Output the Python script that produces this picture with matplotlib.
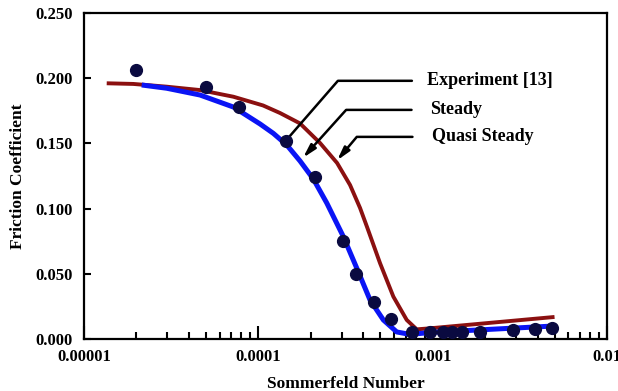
import matplotlib
matplotlib.use("Agg")
import matplotlib.pyplot as plt
from matplotlib.ticker import FixedLocator, NullFormatter

plt.rcParams['font.family'] = ['Liberation Serif', 'DejaVu Serif']
plt.rcParams['font.weight'] = 'bold'

# Experiment [13] points
exp_s = [2.0e-5, 5.0e-5, 7.7e-5, 1.45e-4, 2.1e-4, 3.05e-4, 3.65e-4, 4.6e-4, 5.8e-4,
         7.6e-4, 9.7e-4, 1.15e-3, 1.29e-3, 1.47e-3, 1.87e-3, 2.89e-3, 3.87e-3, 4.85e-3]
exp_f = [0.206, 0.193, 0.178, 0.152, 0.124, 0.075, 0.050, 0.028, 0.015,
         0.005, 0.005, 0.005, 0.005, 0.005, 0.005, 0.007, 0.0075, 0.0085]

# Steady (blue)
steady_s = [2.143e-5, 2.98e-5, 4.63e-5, 7.19e-5, 1.023e-4, 1.219e-4, 1.455e-4, 1.735e-4,
            2.068e-4, 2.469e-4, 3.074e-4, 3.668e-4, 4.373e-4, 5.215e-4, 6.223e-4,
            7.42e-4, 9.66e-4, 5.0e-3]
steady_f = [0.1948, 0.1923, 0.1871, 0.1779, 0.1649, 0.1577, 0.1488, 0.1365,
            0.1227, 0.1043, 0.0785, 0.0544, 0.0299, 0.0146, 0.0054,
            0.0035, 0.0050, 0.0100]

# Quasi steady (dark red)
quasi_s = [1.35e-5, 1.918e-5, 2.98e-5, 4.63e-5, 7.19e-5, 1.064e-4, 1.332e-4, 1.735e-4,
           2.259e-4, 2.829e-4, 3.358e-4, 3.832e-4, 4.203e-4, 4.992e-4, 5.95e-4,
           7.1e-4, 8.1e-4, 9.66e-4, 5.0e-3]
quasi_f = [0.1961, 0.1956, 0.1935, 0.1909, 0.1858, 0.1791, 0.1733, 0.1653,
           0.1503, 0.1350, 0.1181, 0.1005, 0.0859, 0.0581, 0.0325,
           0.0146, 0.0074, 0.0082, 0.0169]

x_ticks = [1e-5, 1e-4, 1e-3, 1e-2]
x_labels = ["0.00001", "0.0001", "0.001", "0.01"]
y_ticks = [0.0, 0.05, 0.10, 0.15, 0.20, 0.25]
y_labels = ["0.000", "0.050", "0.100", "0.150", "0.200", "0.250"]

fig = plt.figure(figsize=(6.18, 3.91), dpi=100)
ax = fig.add_axes([84 / 618, 52 / 391, 523 / 618, 326 / 391])

ax.plot(quasi_s, quasi_f, color='#8b1010', lw=2.8, solid_joinstyle='round',
        solid_capstyle='butt', zorder=2)
ax.plot(steady_s, steady_f, color='#0a14f5', lw=3.6, solid_joinstyle='round',
        solid_capstyle='butt', zorder=3)
ax.plot(exp_s, exp_f, 'o', color='#0a0a40', ms=8.5, zorder=4, clip_on=False)

ax.set_xscale('log')
ax.set_xlim(1e-5, 1e-2)
ax.set_ylim(0, 0.25)

ax.set_xticks(x_ticks)
ax.set_xticklabels(x_labels)
ax.xaxis.set_minor_locator(FixedLocator([m * 10.0 ** e for e in (-5, -4, -3) for m in range(2, 10)]))
ax.xaxis.set_minor_formatter(NullFormatter())
ax.set_yticks(y_ticks)
ax.set_yticklabels(y_labels)
ax.yaxis.set_minor_locator(FixedLocator([0.10, 0.20]))

ax.tick_params(axis='x', which='major', direction='in', length=9.5, width=1.5,
               pad=7, labelsize=12, top=False)
ax.tick_params(axis='x', which='minor', direction='in', length=5, width=1.5, top=False)
ax.tick_params(axis='y', which='major', direction='in', length=5, width=1.5,
               pad=8, labelsize=12, right=False)
ax.tick_params(axis='y', which='minor', direction='in', length=11, width=1.5, right=False)
for lbl in ax.get_xticklabels() + ax.get_yticklabels():
    lbl.set_fontweight('bold')

for sp in ax.spines.values():
    sp.set_linewidth(1.6)

ax.set_xlabel("Sommerfeld Number", fontsize=12.5, fontweight='bold', labelpad=8)
ax.set_ylabel("Friction Coefficient", fontsize=12.5, fontweight='bold', labelpad=7)

# leader lines with labels
ax.annotate("Experiment [13]", xy=(1.48e-4, 0.154), xytext=(9.3e-4, 0.198),
            fontsize=13, fontweight='bold', va='center', ha='left',
            arrowprops=dict(arrowstyle='-', lw=1.8, color='black', shrinkA=9, shrinkB=0,
                            connectionstyle='angle,angleA=0,angleB=49,rad=0'))
ax.annotate("Steady", xy=(1.805e-4, 0.139), xytext=(9.6e-4, 0.1757),
            fontsize=13, fontweight='bold', va='center', ha='left',
            arrowprops=dict(arrowstyle='-|>,head_length=0.6,head_width=0.16', lw=1.8,
                            color='black', shrinkA=11, shrinkB=0,
                            connectionstyle='angle,angleA=0,angleB=48,rad=0'))
ax.annotate("Quasi Steady", xy=(2.83e-4, 0.137), xytext=(9.9e-4, 0.155),
            fontsize=13, fontweight='bold', va='center', ha='left',
            arrowprops=dict(arrowstyle='-|>,head_length=0.6,head_width=0.16', lw=1.8,
                            color='black', shrinkA=12, shrinkB=0,
                            connectionstyle='angle,angleA=0,angleB=50,rad=0'))

fig.savefig("out.png", dpi=100)
